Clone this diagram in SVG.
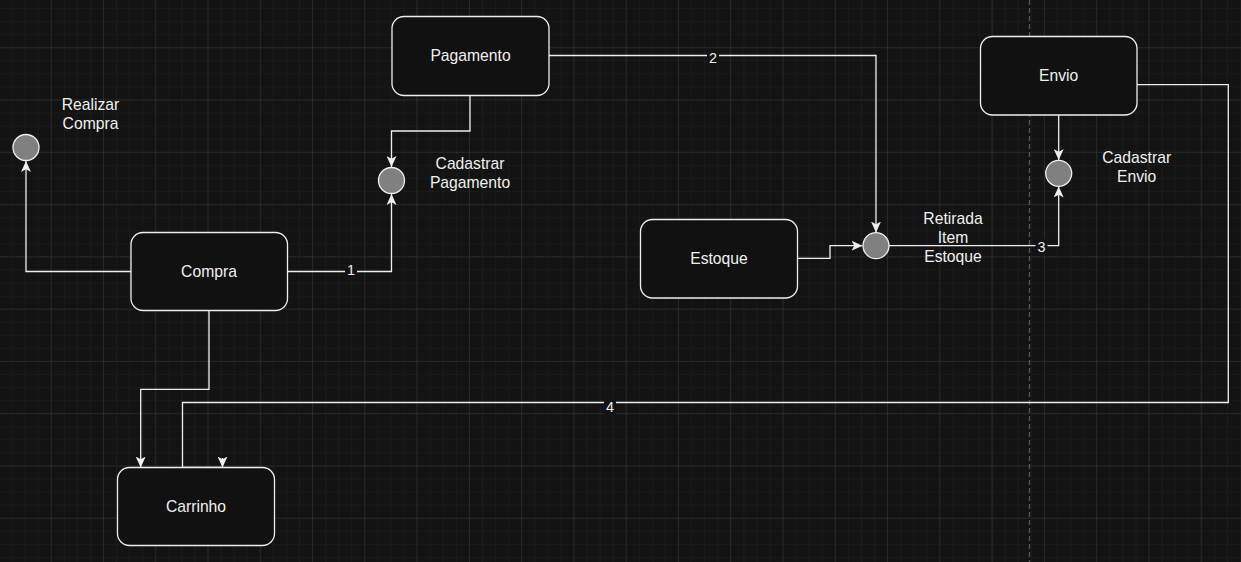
<svg xmlns="http://www.w3.org/2000/svg" width="1241" height="562" viewBox="0 0 1241 562">
<style>
.node{fill:#111111;stroke:#eeeeee;stroke-width:1.3}
.dot{fill:#808080;stroke:#eeeeee;stroke-width:1.3}
.t{font-family:"Liberation Sans",Arial,Helvetica,sans-serif;font-size:15.7px;fill:#f0f0f0;text-anchor:middle}
.lbl{font-family:"Liberation Sans",Arial,Helvetica,sans-serif;font-size:14.4px;fill:#f0f0f0;text-anchor:middle}
.edge{fill:none;stroke:#eeeeee;stroke-width:1.3;marker-end:url(#arr)}
.lbg{fill:#131313}
</style>
<defs>
<pattern id="minor" patternUnits="userSpaceOnUse" x="50.7" y="47.3" width="13.07" height="13.07">
<path d="M0,0 H13.07 M0,0 V13.07" fill="none" stroke="#202020" stroke-width="1"/>
</pattern>
<pattern id="major" patternUnits="userSpaceOnUse" x="50.7" y="47.3" width="52.27" height="52.27">
<path d="M0,0 H52.27 M0,0 V52.27" fill="none" stroke="#363636" stroke-width="1"/>
</pattern>
<marker id="arr" markerUnits="userSpaceOnUse" viewBox="0 0 11 10" markerWidth="11" markerHeight="10" refX="11" refY="5" orient="auto">
<path d="M11,5 L0,0 L2.8,5 L0,10 Z" fill="#eeeeee"/>
</marker>
</defs>
<rect width="1241" height="562" fill="#131313"/>
<rect width="1241" height="562" fill="url(#minor)"/>
<rect width="1241" height="562" fill="url(#major)"/>
<line x1="1029.5" y1="0" x2="1029.5" y2="562" stroke="#555555" stroke-width="1.3" stroke-dasharray="5 3"/>

<g id="connectors">
<path class="edge" d="M131,271.5 H26 V161"/>
<path class="edge" d="M287.5,271.5 H391.5 V194"/>
<path class="edge" d="M470,95 V131 H391.5 V167"/>
<path class="edge" d="M549,55.5 H876 V232.5"/>
<path class="edge" d="M797,258.3 H830 V245.7 H862.5"/>
<path class="edge" d="M889,245.7 H1058.7 V186.5"/>
<path class="edge" d="M1058.7,115 V160"/>
<path class="edge" d="M1137,84.7 H1228.3 V402.5 H182.5 V467.5 H222.5 M222.5,458 V467.5"/>
<path class="edge" d="M209,310.5 V389.3 H140.7 V467.5"/>
<rect class="lbg" x="345" y="262" width="12" height="16"/>
<text class="lbl" x="351" y="275">1</text>
<rect class="lbg" x="707" y="50" width="12" height="16"/>
<text class="lbl" x="713" y="63">2</text>
<rect class="lbg" x="1035.5" y="239" width="12" height="16"/>
<text class="lbl" x="1041.5" y="252">3</text>
<rect class="lbg" x="604" y="398" width="12" height="17"/>
<text class="lbl" x="610" y="412">4</text>
</g>

<g id="pagamento">
<rect class="node" x="392" y="16.5" width="157" height="79" rx="12"/>
<text class="t" x="470.5" y="61">Pagamento</text>
</g>
<g id="compra">
<rect class="node" x="131" y="232.5" width="156.5" height="78" rx="12"/>
<text class="t" x="209" y="277">Compra</text>
</g>
<g id="carrinho">
<rect class="node" x="117.5" y="467.5" width="157" height="78" rx="12"/>
<text class="t" x="196" y="512">Carrinho</text>
</g>
<g id="estoque">
<rect class="node" x="640.5" y="219.5" width="157" height="78.5" rx="12"/>
<text class="t" x="719" y="264">Estoque</text>
</g>
<g id="envio">
<rect class="node" x="980.5" y="36.5" width="156.5" height="78.5" rx="12"/>
<text class="t" x="1058.7" y="81">Envio</text>
</g>

<g id="realizar-compra">
<circle class="dot" cx="26" cy="147.5" r="13"/>
<text class="t" x="90.5" y="110">Realizar</text>
<text class="t" x="90.5" y="129">Compra</text>
</g>
<g id="cadastrar-pagamento">
<circle class="dot" cx="391.5" cy="180.5" r="13"/>
<text class="t" x="470" y="169">Cadastrar</text>
<text class="t" x="470" y="188">Pagamento</text>
</g>
<g id="retirada-item-estoque">
<circle class="dot" cx="876" cy="245.7" r="13"/>
<text class="t" x="953" y="224">Retirada</text>
<text class="t" x="953" y="243">Item</text>
<text class="t" x="953" y="262">Estoque</text>
</g>
<g id="cadastrar-envio">
<circle class="dot" cx="1058.7" cy="173.3" r="13"/>
<text class="t" x="1136.7" y="163">Cadastrar</text>
<text class="t" x="1136.7" y="182">Envio</text>
</g>
</svg>
